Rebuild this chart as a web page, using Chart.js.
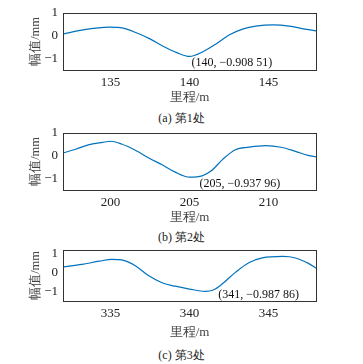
<!DOCTYPE html>
<html>
<head>
<meta charset="utf-8">
<script src="https://cdn.jsdelivr.net/npm/chart.js@4"></script>
<style>
body { margin: 0; background: #fff; width: 363px; height: 364px; position: relative; overflow: hidden; }
.box { position: absolute; left: 0; width: 363px; }
.cap { position: absolute; left: 0; width: 363px; text-align: center; color: #222;
       font: 12px "Liberation Serif", "Times New Roman", serif; line-height: 14px; }
</style>
</head>
<body>
<div class="box" style="top:0;height:105px"><canvas id="c1"></canvas></div>
<div class="cap" style="top:111px">(a) 第1处</div>
<div class="box" style="top:120px;height:105px"><canvas id="c2"></canvas></div>
<div class="cap" style="top:230px">(b) 第2处</div>
<div class="box" style="top:237px;height:103px"><canvas id="c3"></canvas></div>
<div class="cap" style="top:348px">(c) 第3处</div>
<script>
// 第1处
const mileage1 = [132, 133.25, 134.9, 135.8, 136.6, 137.5, 138.3, 139.2, 140, 140.85, 141.7, 142.5, 143.4, 144.2, 145.3, 146.3, 147.2, 148];
const amp1 = [0.07, 0.25, 0.37, 0.33, 0.14, -0.14, -0.45, -0.74, -0.908, -0.70, -0.35, 0.03, 0.30, 0.42, 0.47, 0.42, 0.30, 0.21];
const xTicks1 = [135, 140, 145];

// 第2处
const mileage2 = [197, 197.8, 198.6, 199.5, 200, 200.7, 201.6, 202.4, 203.3, 204.1, 205, 205.8, 206.4, 207.1, 207.9, 208.75, 209.8, 210.8, 211.7, 212.5, 213];
const amp2 = [0.12, 0.28, 0.47, 0.58, 0.63, 0.51, 0.23, -0.09, -0.41, -0.72, -0.938, -0.88, -0.65, -0.16, 0.26, 0.37, 0.44, 0.37, 0.19, 0.01, -0.05];
const xTicks2 = [200, 205, 210];

// 第3处
const mileage3 = [332, 333.2, 334.3, 335.1, 335.7, 336.6, 337.4, 338.3, 339.1, 340, 341, 341.5, 342.1, 342.9, 343.75, 344.6, 345.9, 346.7, 347.55, 348];
const amp3 = [0.29, 0.43, 0.6, 0.7, 0.67, 0.35, -0.16, -0.55, -0.72, -0.87, -0.988, -0.92, -0.58, 0.01, 0.52, 0.77, 0.85, 0.77, 0.47, 0.23];
const xTicks3 = [335, 340, 345];

const yTicks = [-1, 0, 1];
const marks = [
  { x: 140, y: -0.90851, text: '(140, \u22120.908 51)' },
  { x: 205, y: -0.93796, text: '(205, \u22120.937 96)' },
  { x: 341, y: -0.98786, text: '(341, \u22120.987 86)' }
];

const numFont = '"Liberation Serif", "Times New Roman", serif';

const framePlugin = {
  id: 'frame',
  afterDatasetsDraw(chart, args, opts) {
    const a = chart.chartArea, ctx = chart.ctx;
    ctx.save();
    ctx.strokeStyle = '#333';
    ctx.lineWidth = 1;
    ctx.strokeRect(Math.round(a.left) + 0.5, Math.round(a.top) + 0.5, Math.round(a.right - a.left), Math.round(a.bottom - a.top));
    const m = opts.mark;
    if (m) {
      const px = chart.scales.x.getPixelForValue(m.x);
      const py = chart.scales.y.getPixelForValue(m.y);
      ctx.fillStyle = '#111';
      ctx.font = '12px ' + numFont;
      ctx.textBaseline = 'middle';
      ctx.fillText(m.text, px + opts.dx, py + opts.dy);
    }
    ctx.restore();
  }
};

function makeChart(id, xs, ys, xTicks, yMin, yMax, xAxisH, mark, dx, dy) {
  const pts = xs.map((v, i) => ({ x: v, y: ys[i] }));
  return new Chart(document.getElementById(id), {
    type: 'line',
    data: { datasets: [{ data: pts, borderColor: '#0072BD', borderWidth: 1.2, pointRadius: 0, cubicInterpolationMode: 'monotone', fill: false }] },
    options: {
      responsive: true,
      maintainAspectRatio: false,
      animation: false,
      layout: { padding: { left: 28, right: 47, top: 10, bottom: 0 } },
      plugins: { legend: { display: false }, tooltip: { enabled: false }, frame: { mark: mark, dx: dx, dy: dy } },
      scales: {
        x: {
          type: 'linear', min: xs[0], max: xs[xs.length - 1],
          grid: { display: false, drawTicks: false },
          border: { display: false },
          afterBuildTicks: s => { s.ticks = xTicks.map(v => ({ value: v })); },
          afterFit: s => { s.height = xAxisH; },
          ticks: { color: '#222', padding: 5, font: { family: numFont, size: 13 } },
          title: { display: true, text: '里程/m', color: '#444', padding: { top: 0, bottom: 0 }, font: { family: numFont, size: 13 } }
        },
        y: {
          min: yMin, max: yMax,
          grid: { display: false, drawTicks: false },
          border: { display: false },
          afterBuildTicks: s => { s.ticks = yTicks.map(v => ({ value: v })); },
          afterFit: s => { s.width = 35; },
          ticks: { color: '#222', padding: 5, font: { family: numFont, size: 13 }, callback: v => String(v).replace('-', '\u2212') },
          title: { display: true, text: '幅值/mm', color: '#444', padding: { top: 0, bottom: 0 }, font: { family: numFont, size: 12.5 } }
        }
      }
    },
    plugins: [framePlugin]
  });
}

makeChart('c1', mileage1, amp1, xTicks1, -1.5, 1, 35, marks[0], 2, 6);
makeChart('c2', mileage2, amp2, xTicks2, -1.5, 1, 35, marks[1], 10, 7);
makeChart('c3', mileage3, amp3, xTicks3, -1.5, 1.2, 39, marks[2], 13, 4);
</script>
</body>
</html>
